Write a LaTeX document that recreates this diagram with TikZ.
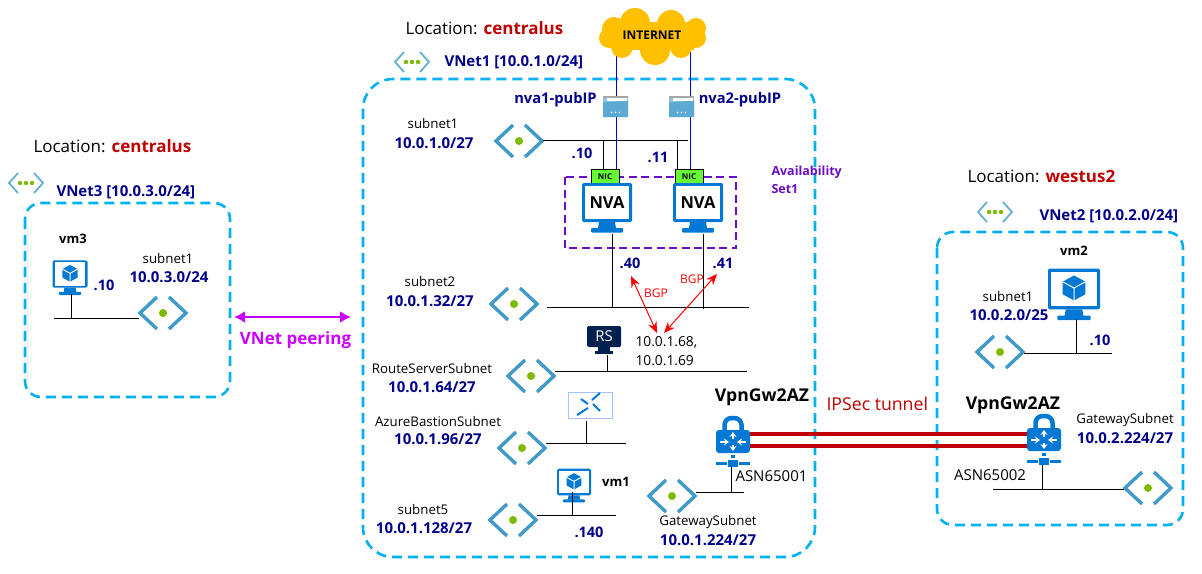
\documentclass[tikz,border=0pt]{standalone}
\usepackage{fontspec}
\setmainfont{Open Sans}
\usetikzlibrary{arrows.meta}
\definecolor{dashblue}{HTML}{00B0F0}
\definecolor{navytext}{HTML}{00008B}
\definecolor{locred}{HTML}{C00000}
\definecolor{setpurple}{HTML}{6A0DC8}
\definecolor{peermag}{HTML}{CC00FF}
\definecolor{azure}{HTML}{0078D4}
\definecolor{chevron}{HTML}{3F9AC9}
\definecolor{dotgreen}{HTML}{7FBA00}
\definecolor{rsnavy}{HTML}{002050}
\definecolor{wanblue}{HTML}{0000CC}
\definecolor{cloudgold}{HTML}{FFC000}
\definecolor{nicgreen}{HTML}{66FF33}
\newcommand{\monitorbody}{
  \fill[azure,rounded corners=1.5] (-25,-19.5) rectangle (25,19.5);
  \fill[white] (-22,-16.5) rectangle (22,16.5);
  \fill[azure] (-8,19.5) -- (8,19.5) -- (9,26) -- (-9,26) -- cycle;
  \fill[azure,rounded corners=1] (-16,25.5) rectangle (16,30);
  \coordinate (-s) at (0,31);
}
\tikzset{
  x=1pt,y=-1pt,
  vnetbox/.style={draw=dashblue,line width=2.6,dash pattern=on 10 off 6},
  loc/.style={anchor=west,inner sep=0,font=\fontsize{17}{19}\selectfont},
  vnetlabel/.style={anchor=west,inner sep=0,text=navytext,font=\fontsize{15}{17}\selectfont\bfseries},
  piplabel/.style={inner sep=0,text=navytext,font=\fontsize{14.7}{17}\selectfont\bfseries},
  subnetname/.style={inner sep=0,font=\fontsize{13.3}{15}\selectfont},
  subnetaddr/.style={inner sep=0,text=navytext,font=\fontsize{15}{17}\selectfont\bfseries},
  hostaddr/.style={inner sep=0,text=navytext,font=\fontsize{14.5}{16}\selectfont\bfseries},
  hostname/.style={inner sep=0,font=\fontsize{13}{15}\selectfont\bfseries},
  gwname/.style={inner sep=0,font=\fontsize{17.6}{19}\selectfont\bfseries},
  asnlabel/.style={inner sep=0,font=\fontsize{15}{17}\selectfont},
  bgplabel/.style={inner sep=0,text=red,font=\fontsize{12}{14}\selectfont},
  nvatext/.style={inner sep=0,font=\fontsize{16.5}{18}\selectfont\bfseries},
  nicbox/.style={draw=black,fill=nicgreen,minimum width=28,minimum height=15,inner sep=0,font=\fontsize{8}{9}\selectfont\bfseries},
  bgpline/.style={red,line width=1,{Stealth[length=11,width=9]}-{Stealth[length=11,width=9]}},
  wanline/.style={wanblue,line width=.8},
  tunnel/.style={locred,line width=3.4},
  pics/subnet/.style={code={
    \draw[chevron,line width=3.4] (-6,-16) -- (-23,0) -- (-6,16);
    \draw[chevron,line width=3.4] (6,-16) -- (23,0) -- (6,16);
    \fill[dotgreen] (0,0) circle[radius=4];
    \coordinate (-e) at (24,0);
    \coordinate (-w) at (-24,0);
  }},
  pics/vnet/.style={code={
    \draw[chevron!80,line width=1.8] (-8,-10) -- (-17,0) -- (-8,10);
    \draw[chevron!80,line width=1.8] (8,-10) -- (17,0) -- (8,10);
    \foreach \dx in {-6,0,6} \fill[dotgreen] (\dx,0) circle[radius=2.2];
  }},
  pics/nvabox/.style={code={\monitorbody}},
  pics/vmbox/.style={code={
    \monitorbody
    \fill[azure] (0,-13) -- (11,-7) -- (11,5) -- (0,11) -- (-11,5) -- (-11,-7) -- cycle;
    \draw[white,line width=1] (-11,-7) -- (0,-1) -- (11,-7) (0,-1) -- (0,11);
  }},
  pics/gateway/.style={code={
    \draw[azure,line width=4.5,rounded corners=7] (-8.5,-8) -- (-8.5,-24) -- (8.5,-24) -- (8.5,-8);
    \fill[azure,rounded corners=3] (-17,-12) rectangle (17,11);
    \foreach \ax/\ay/\bx/\by in {-13/0/-4/0,13/0/4/0,0/-3/0/-10,0/3/0/9}
      \draw[white,line width=1.6,-{Stealth[length=5,width=7]}] (\ax,\ay) -- (\bx,\by);
    \fill[azure] (-2,13) rectangle (2,16);
    \fill[azure] (-17,19.5) rectangle (-6,23);
    \fill[azure] (6,19.5) rectangle (17,23);
    \fill[azure] (-5,17.5) rectangle (5,25);
    \coordinate (-s) at (-2,25);
  }},
  pics/pubip/.style={code={
    \fill[chevron!60!white,rounded corners=1] (-12.5,-10.5) rectangle (12.5,10.5);
    \fill[chevron!85!white] (-12.5,-4) -- (12.5,-6) -- (12.5,10.5) -- (-12.5,10.5) -- cycle;
    \fill[black!35] (-12.5,-10.5) rectangle (12.5,-8.5);
    \fill[white] (-9,-8.5) rectangle (11,-6);
    \foreach \dx in {-4,0,4} \fill[white] (\dx,6) circle[radius=.9];
  }},
  pics/bastion/.style={code={
    \draw[blue!30!azure!35!white,line width=1,fill=white] (-22,-13) rectangle (22,13);
    \draw[azure,line width=2] (-13,10) -- (-2,3);
    \draw[azure,line width=2] (2,-5) -- (10,-12);
    \draw[azure,line width=2] (-9,-6) -- (-2,-1);
    \draw[azure,line width=2] (3,-1) -- (10,6);
  }},
}
\begin{document}
\begin{tikzpicture}[line width=1]
\useasboundingbox (0,0) rectangle (1202,573);

\draw[vnetbox,rounded corners=30] (363,79) rectangle (815,557);
\draw[vnetbox,rounded corners=16] (25,203) rectangle (230,397);
\draw[vnetbox,rounded corners=16] (937,232) rectangle (1183,525);

\node[loc] (loc1) at (405,28) {Location: \textcolor{locred}{\bfseries centralus}};
\node[loc] (loc3) at (33,146) {Location: \textcolor{locred}{\bfseries centralus}};
\node[loc] (loc2) at (967,176) {Location: \textcolor{locred}{\bfseries westus2}};

\pic at (412,62) {vnet};
\pic at (26,183) {vnet};
\pic at (995,212) {vnet};
\node[vnetlabel] (vnet1) at (444,62) {VNet1 [10.0.1.0/24]};
\node[vnetlabel] (vnet3) at (56,192) {VNet3 [10.0.3.0/24]};
\node[vnetlabel] (vnet2) at (1039,216) {VNet2 [10.0.2.0/24]};

\coordinate (inet1) at (616,45);
\coordinate (inet2) at (690,45);
\node[nicbox] (nic1) at (605,176.5) {NIC};
\node[nicbox] (nic2) at (689,176.5) {NIC};
\draw[wanline] (inet1) -- (inet1 |- nic1.north);
\draw[wanline] (inet2) -- (inet2 |- nic2.north);
\foreach \cx/\cy/\cr in {635/23/15,671/24/14,614/29/12,696/28/10,609/38/10,696/38/10,622/47/11,655/50/15,681/47/11}
  \fill[cloudgold] (\cx,\cy) circle[radius=\cr];
\fill[cloudgold] (614,22) rectangle (694,50);
\node[inner sep=0,font=\fontsize{12}{14}\selectfont\bfseries] (inet) at (652,35) {INTERNET};
\pic at (615.5,106.5) {pubip};
\pic at (681.5,106.5) {pubip};
\node[piplabel] (pip1) at (555.5,100) {nva1-pubIP};
\node[piplabel] (pip2) at (740,100) {nva2-pubIP};

\pic (sn1) at (519,141) {subnet};
\coordinate (bus1) at (688,140.5);
\coordinate (drop1) at (603,140.5);
\coordinate (drop2) at (677,140.5);
\draw (sn1-e |- bus1) -- (bus1);
\draw (drop1) -- (drop1 |- nic1.north);
\draw (drop2) -- (drop2 |- nic2.north);
\node[subnetname] (sn1name) at (433,124) {subnet1};
\node[subnetaddr] (sn1addr) at (434,143) {10.0.1.0/27};
\node[hostaddr] (h10) at (582,153) {.10};
\node[hostaddr] (h11) at (658,157) {.11};

\draw[setpurple,line width=1.9,dash pattern=on 8 off 4.5] (565,177) rectangle (736,248);
\node[nicbox] at (605,176.5) {NIC};
\node[nicbox] at (689,176.5) {NIC};
\node[anchor=west,align=left,inner sep=0,text=setpurple,font=\fontsize{12.5}{18}\selectfont\bfseries] (avset) at (771,180) {Availability\\Set1};
\pic (nva1) at (607,202.5) {nvabox};
\pic (nva2) at (698,202.5) {nvabox};
\node[nvatext] (nva1txt) at (607,203) {NVA};
\node[nvatext] (nva2txt) at (698,203) {NVA};

\pic (sn2) at (514,304) {subnet};
\coordinate (bus2a) at (547,307);
\coordinate (bus2b) at (749,307);
\coordinate (nva1drop) at (612,307);
\coordinate (nva2drop) at (703,309);
\draw (bus2a) -- (bus2b);
\draw (nva1-s -| nva1drop) -- (nva1drop);
\draw (nva2-s -| nva2drop) -- (nva2drop);
\node[subnetname] (sn2name) at (430,282) {subnet2};
\node[subnetaddr] (sn2addr) at (430,301) {10.0.1.32/27};
\node[hostaddr] (h40) at (630,263) {.40};
\node[hostaddr] (h41) at (723,263) {.41};

\coordinate (bgp1) at (631,276);
\coordinate (bgp2) at (717,274);
\coordinate (rsip1) at (657,333);
\coordinate (rsip2) at (664,333);
\draw[bgpline] (bgp1) -- (rsip1);
\draw[bgpline] (bgp2) -- (rsip2);
\node[bgplabel] (bgp1txt) at (656,293) {BGP};
\node[bgplabel] (bgp2txt) at (692,279) {BGP};

\node[fill=rsnavy,rounded corners=1.5,minimum width=34,minimum height=21,inner sep=0,text=white,font=\fontsize{15}{16}\selectfont] (rs) at (604,336.5) {RS};
\fill[rsnavy] (598,347) rectangle (610,351);
\fill[rsnavy] (595,351) rectangle (613,354);
\pic (snrs) at (531,376) {subnet};
\coordinate (busrs) at (747,371);
\coordinate (rsdrop) at (607,355);
\draw (snrs-e |- busrs) -- (busrs);
\draw (rsdrop) -- (rsdrop |- busrs);
\node[inner sep=0,align=left,anchor=west,font=\fontsize{13.8}{19}\selectfont] (rsip) at (635,351.5) {10.0.1.68,\\10.0.1.69};
\node[subnetname] (rsname) at (432,369) {RouteServerSubnet};
\node[subnetaddr] (rsaddr) at (432,387) {10.0.1.64/27};

\pic (bast) at (590,405) {bastion};
\pic (snb) at (522,448) {subnet};
\coordinate (busb) at (626,443);
\coordinate (bdrop) at (586,421);
\draw (snb-e |- busb) -- (busb);
\draw (bdrop) -- (bdrop |- busb);
\node[subnetname] (bname) at (438,422) {AzureBastionSubnet};
\node[subnetaddr] (baddr) at (438,439) {10.0.1.96/27};

\pic[scale=.68] (vm1) at (574,482) {vmbox};
\pic (sn5) at (513,520) {subnet};
\coordinate (bus5) at (616,515);
\coordinate (vm1drop) at (572,492);
\draw (sn5-e |- bus5) -- (bus5);
\draw (vm1drop) -- (vm1drop |- bus5);
\node[hostname] (vm1txt) at (616,482) {vm1};
\node[hostaddr] (h140) at (589,532) {.140};
\node[subnetname] (sn5name) at (423,510) {subnet5};
\node[subnetaddr] (sn5addr) at (424,528) {10.0.1.128/27};

\pic (gw1) at (733,442) {gateway};
\pic (gw2) at (1044,440) {gateway};
\coordinate (gw1a) at (750,434);
\coordinate (gw1b) at (750,446);
\coordinate (gw2a) at (1027,434);
\coordinate (gw2b) at (1027,446);
\draw[tunnel] (gw1a) -- (gw2a);
\draw[tunnel] (gw1b) -- (gw2b);
\node[anchor=west,inner sep=0,text=locred,font=\fontsize{17.7}{19}\selectfont] (ipsec) at (826,404) {IPSec tunnel};
\node[gwname] (gw1txt) at (762,397) {VpnGw2AZ};
\node[gwname] (gw2txt) at (1013,405) {VpnGw2AZ};
\node[asnlabel,anchor=west] (asn1) at (735,476) {ASN65001};
\node[asnlabel] (asn2) at (990,475) {ASN65002};

\pic (sngw1) at (672,496) {subnet};
\coordinate (busgw1) at (744,492);
\draw (sngw1-e |- busgw1) -- (busgw1);
\draw (gw1-s) -- (gw1-s |- busgw1);
\node[subnetname] (gw1name) at (708,522) {GatewaySubnet};
\node[subnetaddr] (gw1addr) at (708,540) {10.0.1.224/27};

\pic[scale=1.04] (vm2) at (1074,289) {vmbox};
\pic (sn2a) at (1000,352) {subnet};
\coordinate (bus2r) at (1112,353);
\coordinate (vm2drop) at (1076,319);
\draw (sn2a-e |- bus2r) -- (bus2r);
\draw (vm2drop) -- (vm2drop |- bus2r);
\node[hostname] (vm2txt) at (1074,251) {vm2};
\node[subnetname] (sn2aname) at (1008,297) {subnet1};
\node[subnetaddr] (sn2aaddr) at (1009,315) {10.0.2.0/25};
\node[hostaddr] (h10r) at (1100,340) {.10};

\pic (sngw2) at (1148,488) {subnet};
\coordinate (busgw2) at (993,489);
\draw (busgw2) -- (sngw2-w |- busgw2);
\draw (gw2-s) -- (gw2-s |- busgw2);
\node[subnetname] (gw2name) at (1125,420) {GatewaySubnet};
\node[subnetaddr] (gw2addr) at (1125,438) {10.0.2.224/27};

\pic[scale=.7] (vm3) at (70,274) {vmbox};
\pic (sn3) at (163,313) {subnet};
\coordinate (bus3) at (54,318);
\coordinate (vm3drop) at (71,294);
\draw (bus3) -- (sn3-w |- bus3);
\draw (vm3drop) -- (vm3drop |- bus3);
\node[hostname] (vm3txt) at (73,239) {vm3};
\node[subnetname] (sn3name) at (168,259) {subnet1};
\node[subnetaddr] (sn3addr) at (169,277) {10.0.3.0/24};
\node[hostaddr] (h10l) at (104,285) {.10};

\coordinate (peerl) at (234,317);
\coordinate (peerr) at (351,317);
\draw[peermag,line width=2.4,{Latex[length=11,width=12]}-{Latex[length=11,width=12]}] (peerl) -- (peerr);
\node[inner sep=0,text=peermag,font=\fontsize{17}{19}\selectfont\bfseries] (peertxt) at (295.5,340) {VNet peering};
\end{tikzpicture}
\end{document}
